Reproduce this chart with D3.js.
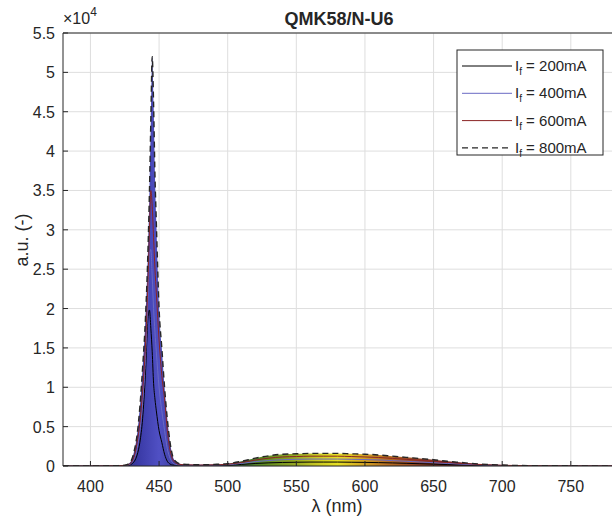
<!DOCTYPE html>
<html><head><meta charset="utf-8">
<script src="https://cdn.jsdelivr.net/npm/d3@7"></script>
<style>body{margin:0;background:#fff;} text{font-family:"Liberation Sans",Arial,Helvetica,sans-serif;fill:#262626;}</style>
</head><body>
<svg id="chart" width="612" height="520"></svg>
<script>
const wavelengths = [380,400,420,425,428,430,432,434,436,438,440,442,443,444,445,446,447,448,450,452,454,456,458,460,462,465,470,480,490,500,510,520,530,540,550,560,570,580,590,600,610,620,630,640,650,660,670,680,690,700,720,740,760,780];
const i200 = [0,0,0.002,0.004,0.01,0.025,0.06,0.14,0.3,0.6,1.15,1.9,1.98,1.75,1.45,1.05,0.85,0.7,0.45,0.3,0.15,0.06,0.025,0.012,0.01,0.008,0.006,0.005,0.006,0.01,0.02,0.032,0.04,0.045,0.048,0.05,0.05,0.05,0.048,0.046,0.043,0.039,0.034,0.029,0.024,0.018,0.013,0.009,0.006,0.004,0.002,0.001,0.001,0];
const i400 = [0,0,0.003,0.006,0.015,0.04,0.1,0.22,0.45,0.8,1.35,2.2,2.7,2.75,2.4,2.0,1.7,1.45,1.0,0.7,0.45,0.22,0.1,0.04,0.02,0.012,0.01,0.008,0.01,0.016,0.033,0.055,0.07,0.08,0.085,0.088,0.088,0.088,0.085,0.082,0.077,0.069,0.06,0.051,0.042,0.032,0.024,0.016,0.01,0.007,0.003,0.002,0.001,0.001];
const i600 = [0,0,0.004,0.008,0.02,0.05,0.13,0.3,0.55,0.95,1.5,2.4,3.0,3.5,3.3,2.9,2.5,2.2,1.6,1.15,0.85,0.45,0.2,0.08,0.04,0.02,0.015,0.012,0.015,0.022,0.045,0.075,0.1,0.115,0.12,0.125,0.125,0.125,0.12,0.115,0.108,0.097,0.085,0.073,0.06,0.046,0.034,0.023,0.015,0.009,0.004,0.002,0.001,0.001];
const i800 = [0,0,0.005,0.01,0.03,0.08,0.2,0.4,0.75,1.25,1.85,2.8,3.5,4.4,5.2,4.6,3.7,3.1,2.0,1.5,1.0,0.6,0.3,0.12,0.06,0.03,0.02,0.015,0.02,0.03,0.06,0.1,0.13,0.15,0.155,0.16,0.16,0.16,0.155,0.15,0.14,0.125,0.11,0.095,0.08,0.06,0.045,0.03,0.02,0.012,0.005,0.003,0.002,0.001];
const seriesNames = ["I_f = 200mA","I_f = 400mA","I_f = 600mA","I_f = 800mA"];
const xTicks = [400,450,500,550,600,650,700,750];
const yTicks = [0,0.5,1,1.5,2,2.5,3,3.5,4,4.5,5,5.5];
const yTickLabels = ["0","0.5","1","1.5","2","2.5","3","3.5","4","4.5","5","5.5"];
const gradWl = [380,420,435,450,465,480,495,510,525,545,565,580,595,615,640,665,700,780];
const gradCol = ["#1a0a30","#2a2a70","#3a3aa6","#5050c4","#3a3a98","#2c2c70","#2a3a60","#3a6a3a","#5a8a22","#8aa022","#c8c822","#e6e024","#d8b022","#b87022","#904022","#602022","#301030","#200a20"];

const svg = d3.select("#chart");
const m = {l:63, r:612, t:33, b:466};
const x = d3.scaleLinear().domain([380,780]).range([m.l,m.r]);
const y = d3.scaleLinear().domain([0,5.5]).range([m.b,m.t]);

// grid
svg.append("g").selectAll("line").data(xTicks).join("line")
  .attr("x1",d=>x(d)).attr("x2",d=>x(d)).attr("y1",m.t).attr("y2",m.b)
  .attr("stroke","#dedede").attr("stroke-width",1);
svg.append("g").selectAll("line").data(yTicks).join("line")
  .attr("x1",m.l).attr("x2",m.r).attr("y1",d=>y(d)).attr("y2",d=>y(d))
  .attr("stroke","#dedede").attr("stroke-width",1);

// gradient
const defs = svg.append("defs");
const grad = defs.append("linearGradient").attr("id","spec").attr("gradientUnits","userSpaceOnUse")
  .attr("x1",x(380)).attr("x2",x(780)).attr("y1",0).attr("y2",0);
gradWl.forEach((w,i)=>grad.append("stop").attr("offset",(w-380)/400).attr("stop-color",gradCol[i]));
defs.append("clipPath").attr("id","clip").append("rect").attr("x",m.l).attr("y",m.t).attr("width",m.r-m.l).attr("height",m.b-m.t);

const data = wavelengths.map((w,i)=>({w, a:i200[i], b:i400[i], c:i600[i], d:i800[i]}));
const g = svg.append("g").attr("clip-path","url(#clip)");
g.append("path").datum(data)
  .attr("d", d3.area().x(d=>x(d.w)).y0(y(0)).y1(d=>y(d.d)).curve(d3.curveMonotoneX))
  .attr("fill","url(#spec)");
const lineFor = k => d3.line().x(d=>x(d.w)).y(d=>y(d[k])).curve(d3.curveMonotoneX);
const styles = [
  {k:"a", color:"#000000", dash:null, w:1},
  {k:"b", color:"#6a6ac4", dash:null, w:1},
  {k:"c", color:"#8b2424", dash:null, w:1},
  {k:"d", color:"#262626", dash:"6,4", w:1.4}
];
styles.forEach(s=>{
  g.append("path").datum(data).attr("d",lineFor(s.k)).attr("fill","none")
   .attr("stroke",s.color).attr("stroke-width",s.w).attr("stroke-dasharray",s.dash);
});

// axes box
svg.append("line").attr("x1",m.l).attr("x2",m.l).attr("y1",m.t).attr("y2",m.b).attr("stroke","#262626");
svg.append("line").attr("x1",m.l).attr("x2",m.r).attr("y1",m.b).attr("y2",m.b).attr("stroke","#262626");
svg.append("line").attr("x1",m.l).attr("x2",m.r).attr("y1",m.t).attr("y2",m.t).attr("stroke","#262626");
// ticks
svg.append("g").selectAll("line").data(xTicks).join("line")
  .attr("x1",d=>x(d)).attr("x2",d=>x(d)).attr("y1",m.b).attr("y2",m.b-5).attr("stroke","#262626");
svg.append("g").selectAll("line").data(yTicks).join("line")
  .attr("x1",m.l).attr("x2",m.l+5).attr("y1",d=>y(d)).attr("y2",d=>y(d)).attr("stroke","#262626");
svg.append("g").selectAll("text").data(xTicks).join("text")
  .attr("x",d=>x(d)).attr("y",m.b+26).attr("text-anchor","middle").attr("font-size",16).text(d=>d);
svg.append("g").selectAll("text").data(yTicks).join("text")
  .attr("x",m.l-8).attr("y",d=>y(d)+6).attr("text-anchor","end").attr("font-size",16).text((d,i)=>yTickLabels[i]);

// exponent
const ex = svg.append("text").attr("x",63).attr("y",24).attr("font-size",16);
ex.append("tspan").text("\u00d710");
ex.append("tspan").attr("dy",-8).attr("font-size",12).text("4");

// title
svg.append("text").attr("x",339).attr("y",25).attr("text-anchor","middle").attr("font-size",18).attr("font-weight","bold").text("QMK58/N-U6");
// axis labels
svg.append("text").attr("x",337).attr("y",512).attr("text-anchor","middle").attr("font-size",18).text("\u03bb (nm)");
svg.append("text").attr("transform","translate(28,240) rotate(-90)").attr("text-anchor","middle").attr("font-size",18).text("a.u. (-)");

// legend
const lg = svg.append("g");
lg.append("rect").attr("x",457).attr("y",50).attr("width",146).attr("height",105).attr("fill","#fff").attr("stroke","#262626").attr("stroke-width",1);
styles.forEach((s,i)=>{
  const yy = 66 + i*27.3;
  lg.append("line").attr("x1",462).attr("x2",512).attr("y1",yy).attr("y2",yy)
    .attr("stroke",s.color).attr("stroke-width",s.w).attr("stroke-dasharray",s.dash);
  const t = lg.append("text").attr("x",515).attr("y",yy+5).attr("font-size",15);
  const parts = seriesNames[i].split("_");
  t.append("tspan").text(parts[0]);
  t.append("tspan").attr("dy",4).attr("font-size",10).text(parts[1][0]);
  t.append("tspan").attr("dy",-4).text(parts[1].slice(1));
});
</script>
</body></html>
